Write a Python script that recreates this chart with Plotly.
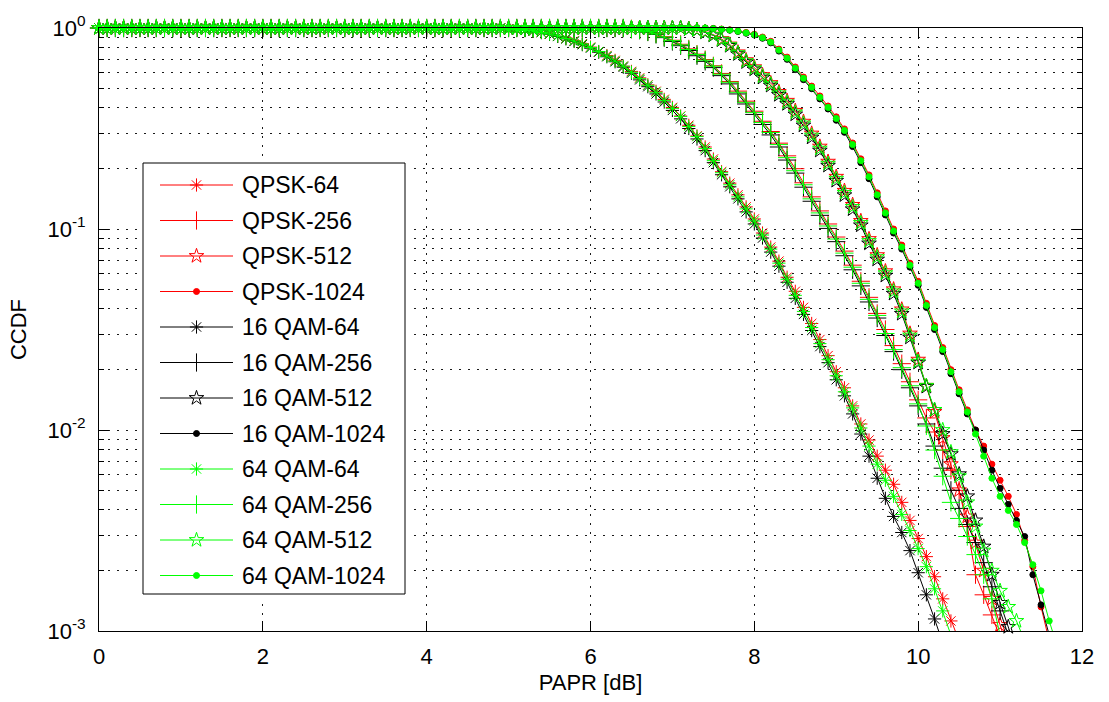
import plotly.graph_objects as go

# ---------------- data ----------------
# Every curve is sampled every 0.1 dB. Values are log10(CCDF).
# Below each group's start PAPR the CCDF equals 1 (log10 = 0).
PAPR_STEP_DB = 0.1

modulations = ["QPSK", "16 QAM", "64 QAM"]
mod_colors = ["#ff0000", "#000000", "#00ff00"]
subcarriers = ["64", "256", "512", "1024"]

# ---- N = 64 : upper part 5.0 .. 9.2 dB, tails from 9.3 dB
start_64 = 5.0
head_64_qpsk = [-0.004, -0.007, -0.011, -0.016, -0.021, -0.029, -0.041, -0.05, -0.063, -0.078,
                -0.095, -0.118, -0.137, -0.161, -0.19, -0.216, -0.248, -0.283, -0.315, -0.355,
                -0.395, -0.438, -0.484, -0.537, -0.592, -0.652, -0.715, -0.772, -0.83, -0.89,
                -0.95, -1.02, -1.09, -1.16, -1.24, -1.31, -1.39, -1.47, -1.55, -1.63,
                -1.71, -1.79, -1.88]
head_64_16qam = [-0.005, -0.009, -0.012, -0.016, -0.023, -0.031, -0.042, -0.054, -0.067, -0.083,
                 -0.1, -0.12, -0.143, -0.168, -0.195, -0.225, -0.258, -0.292, -0.328, -0.368,
                 -0.41, -0.452, -0.5, -0.552, -0.61, -0.67, -0.73, -0.79, -0.85, -0.915,
                 -0.975, -1.045, -1.115, -1.185, -1.265, -1.345, -1.425, -1.505, -1.585, -1.665,
                 -1.75, -1.83, -1.92]
head_64_64qam = [-0.005, -0.008, -0.011, -0.015, -0.022, -0.03, -0.04, -0.052, -0.065, -0.08,
                 -0.097, -0.117, -0.14, -0.165, -0.19, -0.22, -0.252, -0.285, -0.32, -0.36,
                 -0.40, -0.44, -0.49, -0.54, -0.60, -0.66, -0.72, -0.78, -0.84, -0.90,
                 -0.96, -1.03, -1.10, -1.17, -1.25, -1.33, -1.41, -1.49, -1.57, -1.65,
                 -1.73, -1.81, -1.89]
tail_64_qpsk = [-1.97, -2.05, -2.13, -2.20, -2.27, -2.36, -2.45, -2.54, -2.63, -2.73, -2.84, -2.95, -3.05]
tail_64_16qam = [-2.02, -2.13, -2.24, -2.34, -2.43, -2.51, -2.60, -2.71, -2.82, -2.94, -3.06]
tail_64_64qam = [-1.99, -2.08, -2.17, -2.25, -2.33, -2.42, -2.50, -2.59, -2.68, -2.79, -2.90, -3.02]

# ---- N = 256 : upper part 6.5 .. 10.0 dB, tails from 10.1 dB
start_256 = 6.5
head_256_qpsk = [-0.004, -0.009, -0.017, -0.028, -0.043,
                 -0.061, -0.081, -0.104, -0.13, -0.157, -0.188, -0.226, -0.266, -0.314, -0.364,
                 -0.414, -0.464, -0.515, -0.573, -0.636, -0.7, -0.77, -0.84, -0.91, -0.975,
                 -1.04, -1.11, -1.18, -1.26, -1.34, -1.42, -1.5, -1.58, -1.67, -1.76,
                 -1.85]
head_256_16qam = [-0.006, -0.011, -0.02, -0.032, -0.048,
                  -0.067, -0.088, -0.112, -0.138, -0.166, -0.197, -0.237, -0.278, -0.328, -0.378,
                  -0.43, -0.48, -0.532, -0.592, -0.657, -0.722, -0.792, -0.862, -0.932, -0.997,
                  -1.063, -1.133, -1.203, -1.283, -1.363, -1.443, -1.53, -1.61, -1.7, -1.79,
                  -1.88]
head_256_64qam = [-0.005, -0.01, -0.018, -0.03, -0.045,
                  -0.063, -0.084, -0.107, -0.132, -0.16, -0.19, -0.23, -0.27, -0.32, -0.37,
                  -0.42, -0.47, -0.52, -0.58, -0.645, -0.71, -0.78, -0.85, -0.92, -0.985,
                  -1.05, -1.12, -1.19, -1.27, -1.35, -1.43, -1.52, -1.60, -1.69, -1.78,
                  -1.87]
tail_256_qpsk = [-1.94, -2.01, -2.10, -2.20, -2.30, -2.48, -2.72, -2.82, -2.92, -3.03]
tail_256_16qam = [-1.97, -2.08, -2.19, -2.30, -2.39, -2.47, -2.56, -2.66, -2.78, -2.90, -3.02]
tail_256_64qam = [-1.98, -2.10, -2.23, -2.36, -2.44, -2.53, -2.62, -2.72, -2.84, -3.02]

# ---- N = 512 : upper part 7.2 .. 10.2 dB, tails from 10.3 dB
start_512 = 7.2
head_512_qpsk = [-0.004, -0.009, -0.019, -0.033, -0.055, -0.082, -0.121, -0.16,
                 -0.195, -0.234, -0.274, -0.318, -0.362, -0.412, -0.466, -0.525, -0.59, -0.665,
                 -0.74, -0.81, -0.88, -0.96, -1.05, -1.13, -1.21, -1.3, -1.4, -1.52,
                 -1.65, -1.78, -1.91]
head_512_16qam = [-0.006, -0.011, -0.022, -0.037, -0.061, -0.089, -0.13, -0.17,
                  -0.206, -0.247, -0.287, -0.333, -0.378, -0.43, -0.485, -0.545, -0.61, -0.685,
                  -0.76, -0.832, -0.902, -0.982, -1.072, -1.152, -1.232, -1.322, -1.422, -1.54,
                  -1.665, -1.785, -1.9]
head_512_64qam = [-0.005, -0.01, -0.02, -0.035, -0.058, -0.085, -0.125, -0.165,
                  -0.20, -0.24, -0.28, -0.325, -0.37, -0.42, -0.475, -0.535, -0.60, -0.675,
                  -0.75, -0.82, -0.89, -0.97, -1.06, -1.14, -1.22, -1.31, -1.41, -1.53,
                  -1.66, -1.78, -1.90]
tail_512_qpsk = [-2.04, -2.17, -2.30, -2.43, -2.56, -2.70, -2.84, -2.97, -3.10]
tail_512_16qam = [-2.02, -2.12, -2.22, -2.33, -2.45, -2.58, -2.72, -2.86, -2.98, -3.10]
tail_512_64qam = [-2.00, -2.11, -2.23, -2.36, -2.48, -2.60, -2.70, -2.80, -2.88, -2.95, -3.05]

# ---- N = 1024 : upper part 7.5 .. 10.6 dB, tails from 10.7 dB
start_1024 = 7.5
head_1024_qpsk = [-0.002, -0.005, -0.009, -0.015, -0.022,
                  -0.031, -0.045, -0.066, -0.105, -0.145, -0.194, -0.244, -0.289, -0.338, -0.388,
                  -0.442, -0.502, -0.572, -0.651, -0.731, -0.82, -0.91, -1.0, -1.08, -1.17,
                  -1.26, -1.37, -1.48, -1.59, -1.7, -1.8, -1.9]
head_1024_16qam = [-0.003, -0.007, -0.011, -0.017, -0.026,
                   -0.035, -0.051, -0.074, -0.115, -0.156, -0.207, -0.257, -0.302, -0.353, -0.403,
                   -0.459, -0.519, -0.59, -0.67, -0.75, -0.84, -0.93, -1.02, -1.1, -1.19,
                   -1.28, -1.39, -1.5, -1.61, -1.72, -1.82, -1.92]
head_1024_64qam = [-0.003, -0.006, -0.01, -0.016, -0.024,
                   -0.033, -0.048, -0.07, -0.11, -0.15, -0.20, -0.25, -0.295, -0.345, -0.395,
                   -0.45, -0.51, -0.58, -0.66, -0.74, -0.83, -0.92, -1.01, -1.09, -1.18,
                   -1.27, -1.38, -1.49, -1.60, -1.71, -1.81, -1.91]
tail_1024_qpsk = [-2.00, -2.08, -2.17, -2.25, -2.33, -2.42, -2.55, -2.68, -2.88, -3.05]
tail_1024_16qam = [-2.00, -2.10, -2.20, -2.29, -2.37, -2.45, -2.53, -2.72, -2.87, -3.02]
tail_1024_64qam = [-2.02, -2.13, -2.24, -2.33, -2.40, -2.47, -2.56, -2.67, -2.80, -2.95, -3.08]

x_tick_vals = [0, 2, 4, 6, 8, 10, 12]
y_tick_vals = [1e-3, 1e-2, 1e-1, 1]
y_tick_text = ["10<sup>-3</sup>", "10<sup>-2</sup>", "10<sup>-1</sup>", "10<sup>0</sup>"]

# ---------------- assembly ----------------
group_data = {
    "64": (start_64, [head_64_qpsk, head_64_16qam, head_64_64qam],
           [tail_64_qpsk, tail_64_16qam, tail_64_64qam]),
    "256": (start_256, [head_256_qpsk, head_256_16qam, head_256_64qam],
            [tail_256_qpsk, tail_256_16qam, tail_256_64qam]),
    "512": (start_512, [head_512_qpsk, head_512_16qam, head_512_64qam],
            [tail_512_qpsk, tail_512_16qam, tail_512_64qam]),
    "1024": (start_1024, [head_1024_qpsk, head_1024_16qam, head_1024_64qam],
             [tail_1024_qpsk, tail_1024_16qam, tail_1024_64qam]),
}

marker_style = {
    "64": dict(symbol="asterisk-open", size=11),
    "256": dict(symbol="cross-thin-open", size=13),
    "512": dict(symbol="star-open", size=11),
    "1024": dict(symbol="circle", size=6),
}


def build(start, head, tail):
    n_flat = int(round(start / PAPR_STEP_DB))
    logs = [0.0] * n_flat + head + tail
    xs = [round(i * PAPR_STEP_DB, 1) for i in range(len(logs))]
    ys = [10 ** v for v in logs]
    return xs, ys


FONT = "Liberation Sans, Arial, sans-serif"
fig = go.Figure()

for mi, (mod, col) in enumerate(zip(modulations, mod_colors)):
    for n in subcarriers:
        start, heads, tails = group_data[n]
        xs, ys = build(start, heads[mi], tails[mi])
        ms = marker_style[n]
        fig.add_trace(go.Scatter(
            x=xs, y=ys, mode="lines+markers", name=f"{mod}-{n}",
            line=dict(color=col, width=1),
            marker=dict(symbol=ms["symbol"], size=ms["size"], color=col,
                        line=dict(color=col, width=1)),
            cliponaxis=False, showlegend=False,
        ))

# ---------------- MATLAB-like legend (overlay axes in pixel units) ----------------
PLOT_L, PLOT_R, PLOT_T, PLOT_B = 99, 1082, 28, 631
LEG_X0, LEG_X1, LEG_Y0, LEG_Y1 = 143, 405, 163, 594
PAD = 4
ROW0, ROW_STEP = 185, 35.5
SAMPLE_X0, SAMPLE_X1, TEXT_X = 160, 233, 240


def px_to_paper_x(px):
    return (px - PLOT_L) / (PLOT_R - PLOT_L)


def px_to_paper_y(py):
    return (PLOT_B - py) / (PLOT_B - PLOT_T)


ax_x0, ax_x1 = LEG_X0 - PAD, LEG_X1 + PAD
ax_y0, ax_y1 = LEG_Y0 - PAD, LEG_Y1 + PAD

fig.add_trace(go.Scatter(
    x=[LEG_X0, LEG_X1, LEG_X1, LEG_X0, LEG_X0], y=[LEG_Y0, LEG_Y0, LEG_Y1, LEG_Y1, LEG_Y0],
    mode="lines", fill="toself", fillcolor="white", line=dict(color="black", width=1),
    xaxis="x2", yaxis="y2", showlegend=False, hoverinfo="skip",
))

annotations = []
row = 0
for mi, (mod, col) in enumerate(zip(modulations, mod_colors)):
    for n in subcarriers:
        py = ROW0 + ROW_STEP * row
        ms = marker_style[n]
        fig.add_trace(go.Scatter(
            x=[SAMPLE_X0, SAMPLE_X1], y=[py, py], mode="lines",
            line=dict(color=col, width=1), xaxis="x2", yaxis="y2",
            showlegend=False, hoverinfo="skip",
        ))
        fig.add_trace(go.Scatter(
            x=[(SAMPLE_X0 + SAMPLE_X1) / 2], y=[py], mode="markers",
            marker=dict(symbol=ms["symbol"], size=ms["size"], color=col,
                        line=dict(color=col, width=1)),
            xaxis="x2", yaxis="y2", showlegend=False, hoverinfo="skip", cliponaxis=False,
        ))
        annotations.append(dict(
            x=TEXT_X, y=py, xref="x2", yref="y2", text=f"{mod}-{n}", showarrow=False,
            xanchor="left", yanchor="middle", font=dict(family=FONT, size=23, color="black"),
        ))
        row += 1

GRID_COLOR = "#1a1a1a"
GRID_DASH = "2px,7px"
GRID = dict(showgrid=True, gridcolor=GRID_COLOR, gridwidth=1, griddash=GRID_DASH)

minor_y = [m * 10.0 ** e for e in (-3, -2, -1) for m in range(2, 10)]

fig.update_layout(
    width=1109, height=702,
    margin=dict(l=PLOT_L, r=1109 - PLOT_R, t=PLOT_T, b=702 - PLOT_B),
    paper_bgcolor="white", plot_bgcolor="white",
    font=dict(family=FONT, size=22, color="black"),
    showlegend=False,
    xaxis=dict(
        range=[0, 12], tickvals=x_tick_vals, ticks="inside", ticklen=10, tickcolor="black",
        showline=True, linecolor="black", linewidth=1, mirror="allticks", zeroline=False,
        ticklabelstandoff=6,
        title=dict(text="PAPR [dB]", standoff=6, font=dict(size=22)),
        **GRID,
    ),
    yaxis=dict(
        type="log", range=[-3, 0], tickmode="array", tickvals=y_tick_vals, ticktext=y_tick_text,
        ticks="inside", ticklen=10, tickcolor="black",
        showline=True, linecolor="black", linewidth=1, mirror="allticks", zeroline=False,
        ticklabelstandoff=8,
        title=dict(text="CCDF", standoff=14, font=dict(size=22)),
        minor=dict(tickmode="array", tickvals=minor_y, ticks="inside", ticklen=5,
                   tickcolor="black", showgrid=True, gridcolor=GRID_COLOR, gridwidth=1,
                   griddash=GRID_DASH),
        **GRID,
    ),
    xaxis2=dict(domain=[px_to_paper_x(ax_x0), px_to_paper_x(ax_x1)], range=[ax_x0, ax_x1],
                anchor="y2", visible=False, fixedrange=True),
    yaxis2=dict(domain=[px_to_paper_y(ax_y1), px_to_paper_y(ax_y0)], range=[ax_y1, ax_y0],
                anchor="x2", visible=False, fixedrange=True),
    annotations=annotations,
)

fig.write_html(
    "out.html",
    config={"displayModeBar": False},
    post_script="document.body.style.margin='0';document.body.style.overflow='hidden';",
)
